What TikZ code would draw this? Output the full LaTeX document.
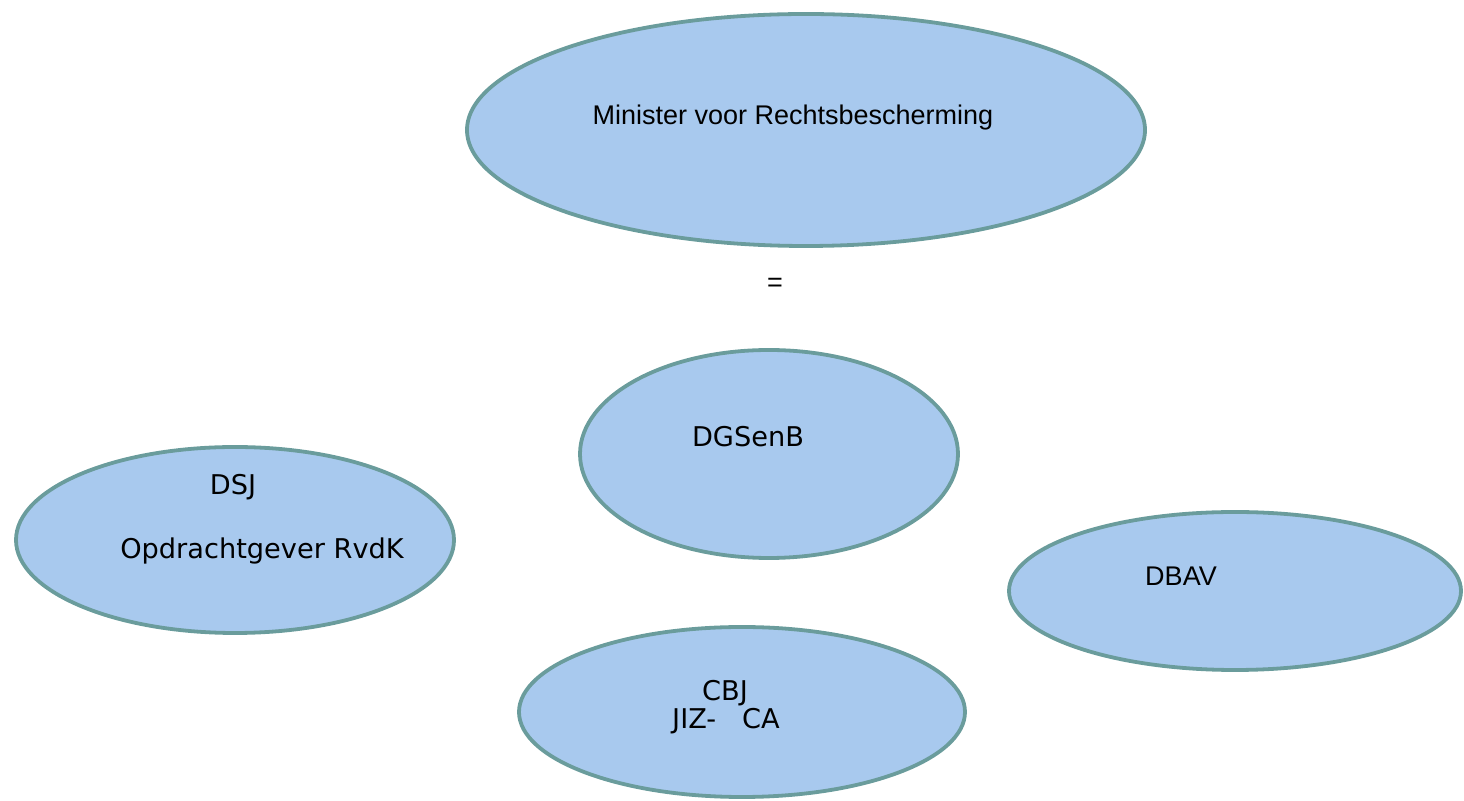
\documentclass[tikz,border=0pt]{standalone}
\usepackage{fontspec}
\setmainfont{Liberation Sans}
\newfontfamily\verd{DejaVu Sans}
\usetikzlibrary{shapes.geometric}
\definecolor{unitfill}{HTML}{A8C9EE}
\definecolor{unitdraw}{HTML}{6A9C9C}
\begin{document}
\begin{tikzpicture}[x=0.5pt, y=-0.5pt]
    \tikzstyle{unit}=[draw=unitdraw, fill=unitfill, line width=1.9pt, shape=ellipse, inner sep=0pt]
    \tikzstyle{arial}=[font=\fontsize{13.5}{16}\selectfont]
    \tikzstyle{verdana}=[font=\verd\fontsize{13.6}{15}\selectfont]
    \useasboundingbox (0,0) rectangle (1464,801);
    % draw units

    \node [unit, minimum width=339pt, minimum height=116pt] (minister) at (806,130) {};
    \node [unit, minimum width=189pt, minimum height=104pt] (dgsenb) at (769,454) {};
    \node [unit, minimum width=219pt, minimum height=93pt] (dsj) at (235,540) {};
    \node [unit, minimum width=226pt, minimum height=79pt] (dbav) at (1235,591) {};
    \node [unit, minimum width=223pt, minimum height=85pt] (cbj) at (742,712) {};

    % draw text

    \node [arial] (minister-t) at (793,118) {Minister voor Rechtsbescherming};
    \node [arial] (eq) at (775,285) {=};
    \node [verdana] (dgsenb-t) at (748,437) {DGSenB};
    \node [verdana] (dsj-t) at (233,487) {DSJ};
    \node [verdana] (dsj-r) at (262,551) {Opdrachtgever RvdK};
    \node [arial] (dbav-t) at (1181,576) {DBAV};
    \node [verdana] (cbj-t) at (725,693) {CBJ};
    \node [verdana] (cbj-r) at (726,721) {JIZ-\ \ \ CA};

\end{tikzpicture}
\end{document}
